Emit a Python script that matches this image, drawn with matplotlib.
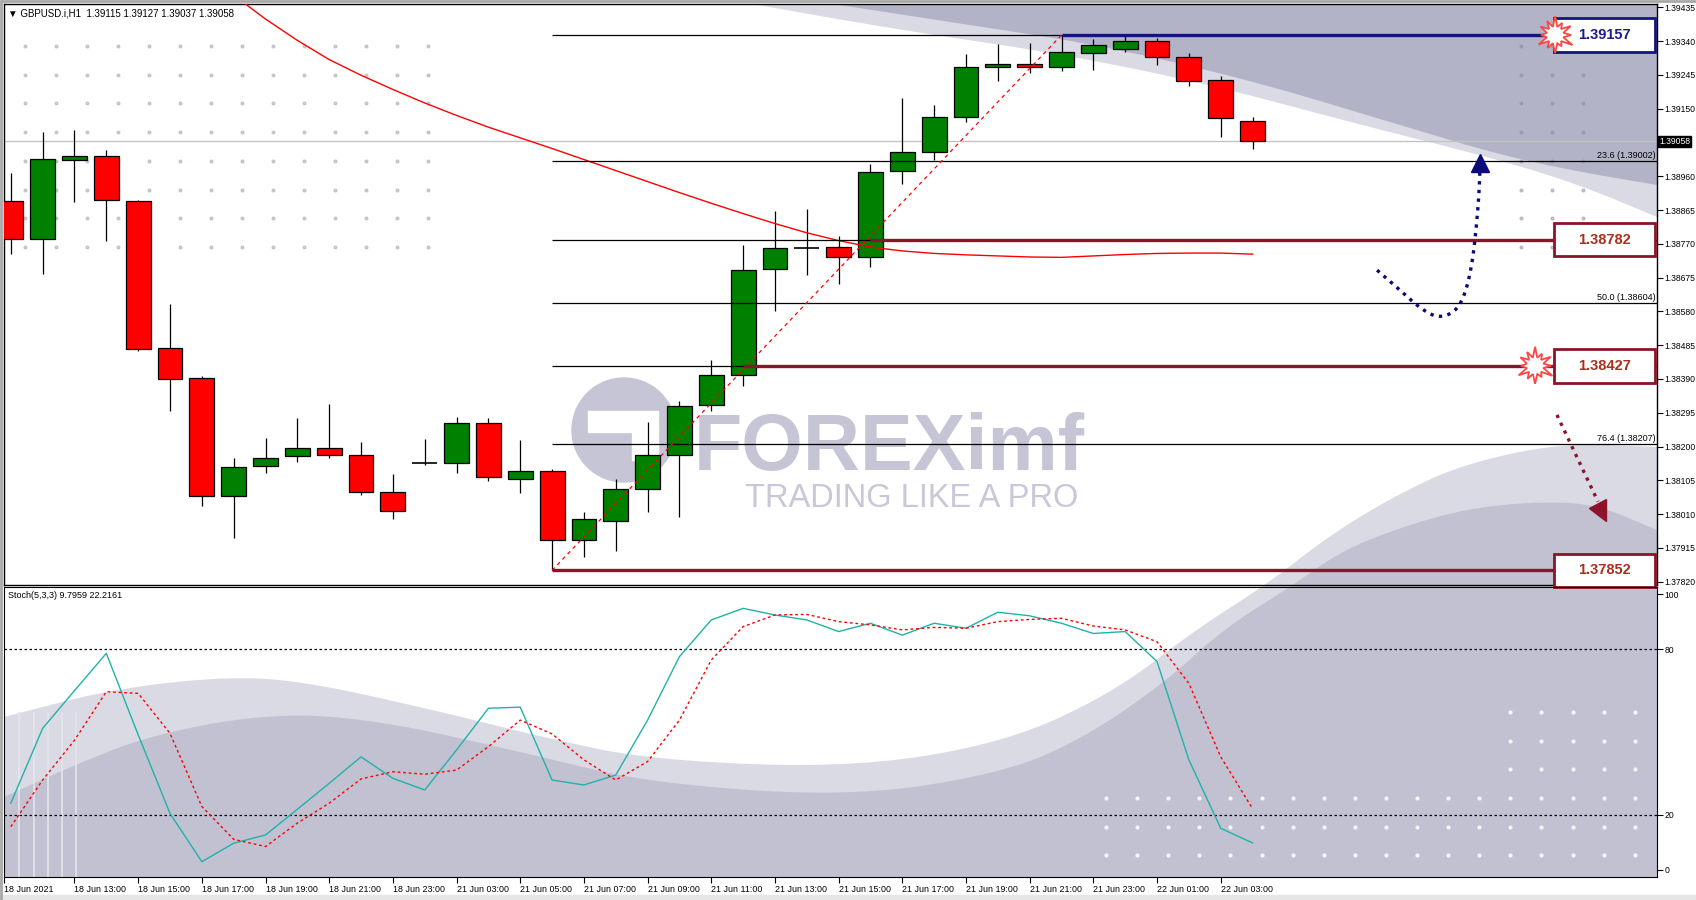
import numpy as np
import matplotlib
matplotlib.use("Agg")
import matplotlib.pyplot as plt
from matplotlib.patches import Rectangle, Polygon, Circle
from matplotlib.markers import MarkerStyle
from matplotlib.transforms import Affine2D, blended_transform_factory

plt.rcParams['font.family'] = ['Liberation Sans', 'DejaVu Sans']

# ---- GBPUSD H1 candles, 18 Jun 11:00 .. 22 Jun 04:00 ----
opens = [1.38890, 1.38784, 1.39006, 1.39018, 1.38890, 1.38477, 1.38392, 1.38060, 1.38145, 1.38173,
         1.38197, 1.38176, 1.38072, 1.38153, 1.38154, 1.38267, 1.38109, 1.38130, 1.37936, 1.37991,
         1.38081, 1.38176, 1.38316, 1.38401, 1.38699, 1.38757, 1.38760, 1.38732, 1.38976, 1.39027,
         1.39128, 1.39267, 1.39277, 1.39267, 1.39307, 1.39319, 1.39340, 1.39295, 1.39231, 1.39115]
highs = [1.38969, 1.39085, 1.39091, 1.39033, 1.38893, 1.38601, 1.38398, 1.38167, 1.38224, 1.38279,
         1.38319, 1.38212, 1.38124, 1.38222, 1.38282, 1.38279, 1.38219, 1.38136, 1.38015, 1.38109,
         1.38270, 1.38328, 1.38443, 1.38766, 1.38863, 1.38869, 1.38793, 1.38994, 1.39179, 1.39161,
         1.39304, 1.39331, 1.39334, 1.39357, 1.39347, 1.39353, 1.39350, 1.39307, 1.39243, 1.39127]
lows = [1.38741, 1.38684, 1.38887, 1.38778, 1.38468, 1.38300, 1.38033, 1.37942, 1.38127, 1.38158,
        1.38167, 1.38063, 1.37997, 1.38148, 1.38127, 1.38103, 1.38069, 1.37852, 1.37890, 1.37905,
        1.38015, 1.38003, 1.38300, 1.38370, 1.38580, 1.38681, 1.38656, 1.38705, 1.38939, 1.39006,
        1.39112, 1.39228, 1.39249, 1.39255, 1.39258, 1.39310, 1.39274, 1.39213, 1.39070, 1.39037]
closes = [1.38784, 1.39009, 1.39018, 1.38893, 1.38474, 1.38389, 1.38060, 1.38142, 1.38167, 1.38197,
          1.38176, 1.38072, 1.38018, 1.38153, 1.38267, 1.38115, 1.38130, 1.37936, 1.37997, 1.38081,
          1.38176, 1.38313, 1.38401, 1.38696, 1.38757, 1.38757, 1.38732, 1.38973, 1.39027, 1.39128,
          1.39267, 1.39277, 1.39267, 1.39310, 1.39328, 1.39340, 1.39295, 1.39228, 1.39125, 1.39058]
nan = np.nan
ma = [nan] * 7 + [1.39469, 1.39402, 1.39342, 1.39288, 1.39244, 1.39204, 1.39166, 1.39131, 1.39098,
                  1.39068, 1.39038, 1.39007, 1.38976, 1.38945, 1.38914, 1.38884, 1.38855, 1.38827,
                  1.38801, 1.38779, 1.38761, 1.38750, 1.38743, 1.38739, 1.38736, 1.38733, 1.38732,
                  1.38736, 1.38740, 1.38743, 1.38744, 1.38744, 1.38741]
stoch_k = [24.2, 51.3, 65, 78.5, 49, 20.5, 3.0, 9.7, 12.7, 22, 31.4, 41, 33.2, 29, 43.5, 58.6, 59,
           32.6, 30.8, 34.4, 54.3, 77.3, 90.6, 94.8, 92.4, 90.6, 86.4, 89.4, 85.1, 89.4, 87.6, 93.4,
           92.1, 89.4, 85.7, 86.4, 75.5, 39.9, 15.1, 9.7959]
stoch_d = [15.7, 32.6, 47, 64.6, 64, 49.5, 23, 11.1, 8.5, 17, 24.2, 33, 35.6, 34.7, 36.2, 44.7, 54.3,
           49.3, 39.9, 32.6, 39.3, 54.3, 76.1, 88.2, 92.4, 92.6, 90, 88.8, 87, 87.9, 87.6, 90, 90.8,
           91.2, 88.4, 87, 82.7, 67.6, 41, 22.2161]

time_labels = ["18 Jun 2021", "18 Jun 13:00", "18 Jun 15:00", "18 Jun 17:00", "18 Jun 19:00",
               "18 Jun 21:00", "18 Jun 23:00", "21 Jun 03:00", "21 Jun 05:00", "21 Jun 07:00",
               "21 Jun 09:00", "21 Jun 11:00", "21 Jun 13:00", "21 Jun 15:00", "21 Jun 17:00",
               "21 Jun 19:00", "21 Jun 21:00", "21 Jun 23:00", "22 Jun 01:00", "22 Jun 03:00"]
price_ticks = [1.39435, 1.39340, 1.39245, 1.39150, 1.38960, 1.38865, 1.38770, 1.38675, 1.38580,
               1.38485, 1.38390, 1.38295, 1.38200, 1.38105, 1.38010, 1.37915, 1.37820]
last_price = 1.39058

# fibo from the low (bar 18) to the high (bar 34)
fib_low, fib_high = 1.37852, 1.39357
fib_levels = [0, 23.6, 38.2, 50, 61.8, 76.4, 100]
fib_texts = {23.6: "23.6 (1.39002)", 50: "50.0 (1.38604)", 76.4: "76.4 (1.38207)"}

# marked levels
level_prices = [1.39357, 1.38782, 1.38427, 1.37852]
level_labels = ["1.39157", "1.38782", "1.38427", "1.37852"]
level_start = [34, 28, 24, 18]
level_colors = ["#14147a", "#8c1428", "#8c1428", "#8c1428"]
label_colors = ["#1c1c8c", "#a8301c", "#a8301c", "#a8301c"]
burst_on = [True, False, True, False]

# arrows (bar index, price)
up_arrow_x = [43.91, 44.63, 45.26, 45.82, 46.36, 46.67, 46.89, 47.02, 47.11, 47.14]
up_arrow_y = [1.38696, 1.38640, 1.38589, 1.38561, 1.38578, 1.38626, 1.38710, 1.38809, 1.38907, 1.38977]
dn_arrow_x = [49.56, 50.85]
dn_arrow_y = [1.38289, 1.38045]

W, H = 1696, 900
XL = (0.7864, 52.702)


def frac(x0, y0, x1, y1):
    return [x0 / W, 1 - y1 / H, (x1 - x0) / W, (y1 - y0) / H]


def smooth(pts, n=4):
    p = np.asarray(pts, float)
    for _ in range(n):
        q = 0.75 * p[:-1] + 0.25 * p[1:]
        r = 0.25 * p[:-1] + 0.75 * p[1:]
        mid = np.empty((2 * len(q), 2))
        mid[0::2] = q
        mid[1::2] = r
        p = np.vstack([p[0], mid, p[-1]])
    return p


fig = plt.figure(figsize=(W / 100, H / 100), dpi=100, facecolor='white')

# ---------- background picture (waves, dots, watermark) ----------
bg = fig.add_axes([0, 0, 1, 1], zorder=0)
bg.set_xlim(0, W)
bg.set_ylim(H, 0)
bg.axis('off')
clip = Rectangle((4, 4), 1653, 873, transform=bg.transData)

light, dark, dark2 = '#dadae5', '#c1c1d2', '#b3b3c7'
top_light = [(752, 4), (900, 30), (1050, 52), (1200, 82), (1350, 122), (1500, 160), (1580, 185), (1657, 217)]
top_dark = [(833, 4), (950, 22), (1100, 45), (1250, 80), (1400, 125), (1500, 155), (1580, 172), (1657, 185)]
low_light = [(4, 717), (108, 690), (217, 677), (298, 680), (434, 710), (542, 737), (650, 760), (850, 768),
             (1004, 743), (1113, 693), (1195, 630), (1266, 585), (1330, 535), (1393, 497), (1460, 465),
             (1560, 443), (1657, 447)]
low_dark = [(4, 797), (70, 767), (150, 735), (271, 713), (380, 720), (542, 757), (650, 783), (850, 797),
            (1004, 773), (1086, 737), (1168, 680), (1222, 630), (1293, 585), (1340, 552), (1393, 530),
            (1460, 510), (1527, 502), (1593, 503), (1657, 530)]
shapes = [(top_light, [(1657, 4)], light), (top_dark, [(1657, 4)], dark2),
          (low_light, [(1657, 877), (4, 877)], light), (low_dark, [(1657, 877), (4, 877)], dark)]
for curve, close, col in shapes:
    pts = np.vstack([smooth(curve), close])
    pg = Polygon(pts, closed=True, facecolor=col, edgecolor='none', zorder=1)
    bg.add_patch(pg)
    pg.set_clip_path(clip)
bg.vlines([19, 34, 48, 62, 76], 712, 877, color='#e4e4ec', lw=1.2, zorder=2)

# dot grids
rows = 46 + 28.7 * np.arange(8)
gx, gy = np.meshgrid(25 + 31 * np.arange(14), rows)
bg.plot(gx.ravel(), gy.ravel(), 'o', ms=2.0, color='#9090aa', alpha=0.4, zorder=3)
gx, gy = np.meshgrid([1521, 1552, 1583], rows)
bg.plot(gx.ravel(), gy.ravel(), 'o', ms=2.0, color='#8888a2', alpha=0.45, zorder=3)
gx, gy = np.meshgrid(1106 + 31.1 * np.arange(18), [798, 827, 855])
bg.plot(gx.ravel(), gy.ravel(), 'o', ms=2.0, color='#f6f6fa', zorder=3)
gx, gy = np.meshgrid(1106 + 31.1 * np.arange(13, 18), [712, 741, 769])
bg.plot(gx.ravel(), gy.ravel(), 'o', ms=2.0, color='#f6f6fa', zorder=3)

# watermark
wm = '#c5c5d5'
bg.add_patch(Circle((624, 430), 52, color=wm, zorder=4))
bg.add_patch(Rectangle((588, 411), 70, 21, color='white', zorder=5))
bg.add_patch(Rectangle((632, 430), 26, 30, color='white', zorder=5))
bg.text(694, 470, 'FOREXimf', fontsize=57, fontweight='bold', color=wm, va='baseline', zorder=6)
bg.text(745, 507, 'TRADING LIKE A PRO', fontsize=23.5, color='#c8c8d8', va='baseline', zorder=6)

# window frame bits
bg.add_patch(Rectangle((0, 895), W, 5, color='#e6e6e6', zorder=1))
bg.hlines(1, 0, W, color='#a8a8a8', lw=2, zorder=1)
bg.vlines(1, 0, H, color='#a8a8a8', lw=2, zorder=1)

# ---------- price panel ----------
ax = fig.add_axes(frac(4, 4, 1657, 585), zorder=2)
ax.set_facecolor('none')
ax.set_xlim(*XL)
ax.set_ylim(1.378108, 1.394443)

x = np.arange(1, len(opens) + 1)
o, h, l, c = map(np.asarray, (opens, highs, lows, closes))
up = c > o + 1e-7
dn = c < o - 1e-7
dj = ~(up | dn)
ax.vlines(x, l, h, color='black', lw=0.9, zorder=4)
ax.bar(x[up], (c - o)[up], bottom=o[up], width=0.78, color='#008000', edgecolor='black', lw=0.9, zorder=5)
ax.bar(x[dn], (o - c)[dn], bottom=c[dn], width=0.78, color='#ff0000', edgecolor='black', lw=0.9, zorder=5)
ax.hlines(o[dj], x[dj] - 0.39, x[dj] + 0.39, color='black', lw=1.2, zorder=5)

ax.axhline(last_price, color='#c4c4c4', lw=1, zorder=1)
ax.plot(x, ma, color='red', lw=1, zorder=6)

fib_prices = [fib_high - lv / 100 * (fib_high - fib_low) for lv in fib_levels]
ax.hlines(fib_prices, 18, XL[1], color='black', lw=0.9, zorder=6)
for lv, fp in zip(fib_levels, fib_prices):
    if lv in fib_texts:
        ax.text(XL[1] - 0.05, fp + 0.00003, fib_texts[lv], ha='right', va='bottom', fontsize=6.5, zorder=6)
ax.plot([18, 34], [fib_low, fib_high], color='red', lw=0.9, ls=(0, (3, 3)), zorder=7)

box_l, box_r, box_h = 49.47, 52.64, 0.00047
for lp, lab, s, lc, tc in zip(level_prices, level_labels, level_start, level_colors, label_colors):
    ax.hlines(lp, s, box_l, color=lc, lw=2.4, zorder=7)
    ax.add_patch(Rectangle((box_l, lp - box_h), box_r - box_l, 2 * box_h, facecolor='white',
                           edgecolor=lc, lw=2, zorder=8, clip_on=False))
    ax.text((box_l + box_r) / 2, lp, lab, ha='center', va='center', fontsize=10.5, fontweight='bold',
            color=tc, zorder=9, clip_on=False)

# arrows
ux, uy = smooth(np.column_stack([up_arrow_x, up_arrow_y]), 3).T
ax.plot(ux, uy, color='#0a0a78', lw=2.4, ls=(0, (1, 1.6)), zorder=8)
ax.plot(up_arrow_x[-1], up_arrow_y[-1] + 0.0002, marker='^', ms=13, color='#0a0a78', zorder=8)
ax.plot(dn_arrow_x, dn_arrow_y, color='#8c1428', lw=2.4, ls=(0, (1, 1.6)), zorder=8)
head = MarkerStyle('^', transform=Affine2D().rotate_deg(-153.7))
ax.plot(dn_arrow_x[-1] + 0.14, dn_arrow_y[-1] - 0.0003, marker=head, ms=14, color='#8c1428', zorder=8)

ax.tick_params(axis='x', bottom=False, labelbottom=False)
ax.yaxis.tick_right()
ax.set_yticks(price_ticks)
ax.set_yticklabels([f'{v:.5f}' for v in price_ticks])
ax.tick_params(axis='y', length=4, width=0.8, pad=1.5, labelsize=6.2)
for sp in ax.spines.values():
    sp.set_linewidth(1)
tr = blended_transform_factory(ax.transAxes, ax.transData)
ax.text(1.0012, last_price, f'{last_price:.5f}', transform=tr, ha='left', va='center', color='white',
        fontsize=6.2, bbox=dict(facecolor='black', edgecolor='black', pad=0.9), zorder=9)

fig.text(8 / W, 1 - 13 / H, '\u25bc GBPUSD.i,H1  1.39115 1.39127 1.39037 1.39058', fontsize=7, va='center')

# ---------- stochastic panel ----------
st = fig.add_axes(frac(4, 587, 1657, 877), zorder=2)
st.set_facecolor('none')
st.set_xlim(*XL)
st.set_ylim(-2.54, 102.54)
st.axhline(80, color='black', lw=0.9, ls=(0, (2, 2)))
st.axhline(20, color='black', lw=0.9, ls=(0, (2, 2)))
st.plot(x, stoch_k, color='#20b2aa', lw=1)
st.plot(x, stoch_d, color='red', lw=1, ls=(0, (2, 2)))
st.yaxis.tick_right()
st.set_yticks([0, 20, 80, 100])
st.set_yticklabels(['0', '20', '80', '100'])
st.tick_params(axis='y', length=4, width=0.8, pad=1.5, labelsize=6.2)
tick_x = [XL[0] + 0.01] + list(range(3, 41, 2))
st.set_xticks(tick_x)
st.set_xticklabels(time_labels, ha='left', fontsize=6.4)
st.tick_params(axis='x', length=4, width=0.8, pad=2)
fig.text(8 / W, 1 - 596 / H, 'Stoch(5,3,3) 9.7959 22.2161', fontsize=6.5, va='center')

# ---------- starbursts on the boxes ----------
fg = fig.add_axes([0, 0, 1, 1], zorder=5)
fg.set_xlim(0, W)
fg.set_ylim(H, 0)
fg.axis('off')
fg.patch.set_alpha(0)
spikes = np.array([19, 14, 18, 16, 20, 13, 18, 15, 19, 14, 17, 16])
ang = np.linspace(0, 2 * np.pi, 2 * len(spikes), endpoint=False) - np.pi / 2
rad = np.empty(2 * len(spikes))
rad[0::2] = spikes
rad[1::2] = 8.5
offsets = [1, -19]
k = 0
for lp, b in zip(level_prices, burst_on):
    if not b:
        continue
    px, py = ax.transData.transform((box_l, lp))
    cx, cy = px + offsets[k], H - py
    k += 1
    pts = np.column_stack([cx + rad * np.cos(ang), cy + rad * np.sin(ang)])
    fg.add_patch(Polygon(pts, closed=True, facecolor='white', edgecolor='#ff4646', lw=1.3))

fig.savefig('out.png', dpi=100, facecolor='white')
